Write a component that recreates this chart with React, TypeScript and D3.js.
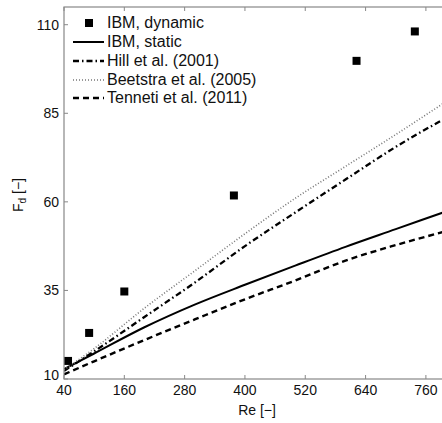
import React from 'react';
import * as d3 from 'd3';

// IBM, dynamic (markers)
const dynRe = [48, 90, 160, 378, 622, 738];
const dynFd = [15.1, 23, 34.7, 61.8, 99.8, 108.1];

// curves, read at these Re values
const curveRe = [40, 100, 200, 300, 400, 500, 600, 700, 800];
const staticFd = [12.8, 17.2, 24.6, 31, 36.6, 42, 47.3, 52.3, 57.3];
const hillFd = [12.3, 17.8, 27.5, 37.2, 47.5, 57, 66.3, 75.5, 83.7];
const beetstraFd = [12.6, 18.6, 30, 40.5, 51, 61, 70, 79, 88.3];
const tennetiFd = [11.3, 15, 21, 26.8, 32.5, 37.8, 43.4, 47.8, 51.7];

const xTicks = [40, 160, 280, 400, 520, 640, 760];
const yTicks = [10, 35, 60, 85, 110];

const legendLabels = ['IBM, dynamic', 'IBM, static', 'Hill et al. (2001)', 'Beetstra et al. (2005)', 'Tenneti et al. (2011)'];

const W = 442;
const H = 423;
const margin = { top: 7, right: -4, bottom: 44, left: 64 };
const FONT = 'Liberation Sans, Arial, Helvetica, sans-serif';

const App = () => {
  const x = d3.scaleLinear().domain([40, 800]).range([margin.left, W - margin.right]);
  const y = d3.scaleLinear().domain([10, 115]).range([H - margin.bottom, margin.top]);

  const line = d3
    .line<[number, number]>()
    .x(d => x(d[0]))
    .y(d => y(d[1]))
    .curve(d3.curveMonotoneX);

  const series = [
    { vals: staticFd, dash: 'none', color: '#000', w: 2 },
    { vals: hillFd, dash: '6,3,1.5,3', color: '#000', w: 2.3 },
    { vals: beetstraFd, dash: '1,2', color: '#777', w: 1.6 },
    { vals: tennetiFd, dash: '6,4', color: '#000', w: 2.4 },
  ];

  const axisColor = '#888';
  const tickLen = 4;
  const x0 = margin.left;
  const x1 = W - margin.right;
  const yb = H - margin.bottom;
  const yt = margin.top;

  const legY = [23, 42, 61, 80, 98];

  return (
    <svg width={W} height={H} style={{ position: 'absolute', left: 0, top: 0, background: '#fff' }} fontFamily={FONT}>
      <defs>
        <clipPath id="plot-clip">
          <rect x={x0} y={yt} width={x1 - x0} height={yb - yt} />
        </clipPath>
      </defs>

      <g clipPath="url(#plot-clip)">
        {series.map((s, i) => (
          <path
            key={i}
            d={line(curveRe.map((r, j) => [r, s.vals[j]]) as [number, number][]) || ''}
            fill="none"
            stroke={s.color}
            strokeWidth={s.w}
            strokeDasharray={s.dash}
          />
        ))}
        {dynRe.map((r, i) => (
          <rect key={i} x={x(r) - 4} y={y(dynFd[i]) - 4} width={8} height={8} fill="#000" />
        ))}
      </g>

      {/* box */}
      <rect x={x0} y={yt} width={x1 - x0} height={yb - yt} fill="none" stroke={axisColor} strokeWidth={1.2} />

      {/* x ticks */}
      {xTicks.map(t => (
        <g key={t}>
          <line x1={x(t)} x2={x(t)} y1={yb} y2={yb - tickLen} stroke={axisColor} />
          <line x1={x(t)} x2={x(t)} y1={yt} y2={yt + tickLen} stroke={axisColor} />
          <text x={x(t)} y={yb + 16} textAnchor="middle" fontSize={14} fill="#111">
            {t}
          </text>
        </g>
      ))}

      {/* y ticks */}
      {yTicks.map(t => (
        <g key={t}>
          <line x1={x0} x2={x0 + tickLen} y1={y(t)} y2={y(t)} stroke={axisColor} />
          <text x={x0 - 5} y={t === 10 ? y(t) + 1 : y(t) + 5} textAnchor="end" fontSize={14} fill="#111">
            {t}
          </text>
        </g>
      ))}

      {/* axis labels */}
      <text x={(x0 + 446) / 2 + 2} y={415} textAnchor="middle" fontSize={14} fill="#111">
        Re [−]
      </text>
      <text transform="translate(23,195) rotate(-90)" textAnchor="middle" fontSize={14} fill="#111">
        F<tspan fontSize={10} dy={3}>d</tspan>
        <tspan dy={-3}> [−]</tspan>
      </text>

      {/* legend */}
      <g>
        <rect x={89 - 4} y={legY[0] - 4} width={8} height={8} fill="#000" />
        {series.map((s, i) => (
          <line
            key={i}
            x1={73}
            x2={104}
            y1={legY[i + 1]}
            y2={legY[i + 1]}
            stroke={s.color}
            strokeWidth={s.w}
            strokeDasharray={s.dash}
          />
        ))}
        {legendLabels.map((l, i) => (
          <text key={l} x={107} y={legY[i] + 5} fontSize={16} fill="#111">
            {l}
          </text>
        ))}
      </g>
    </svg>
  );
};

export default App;
